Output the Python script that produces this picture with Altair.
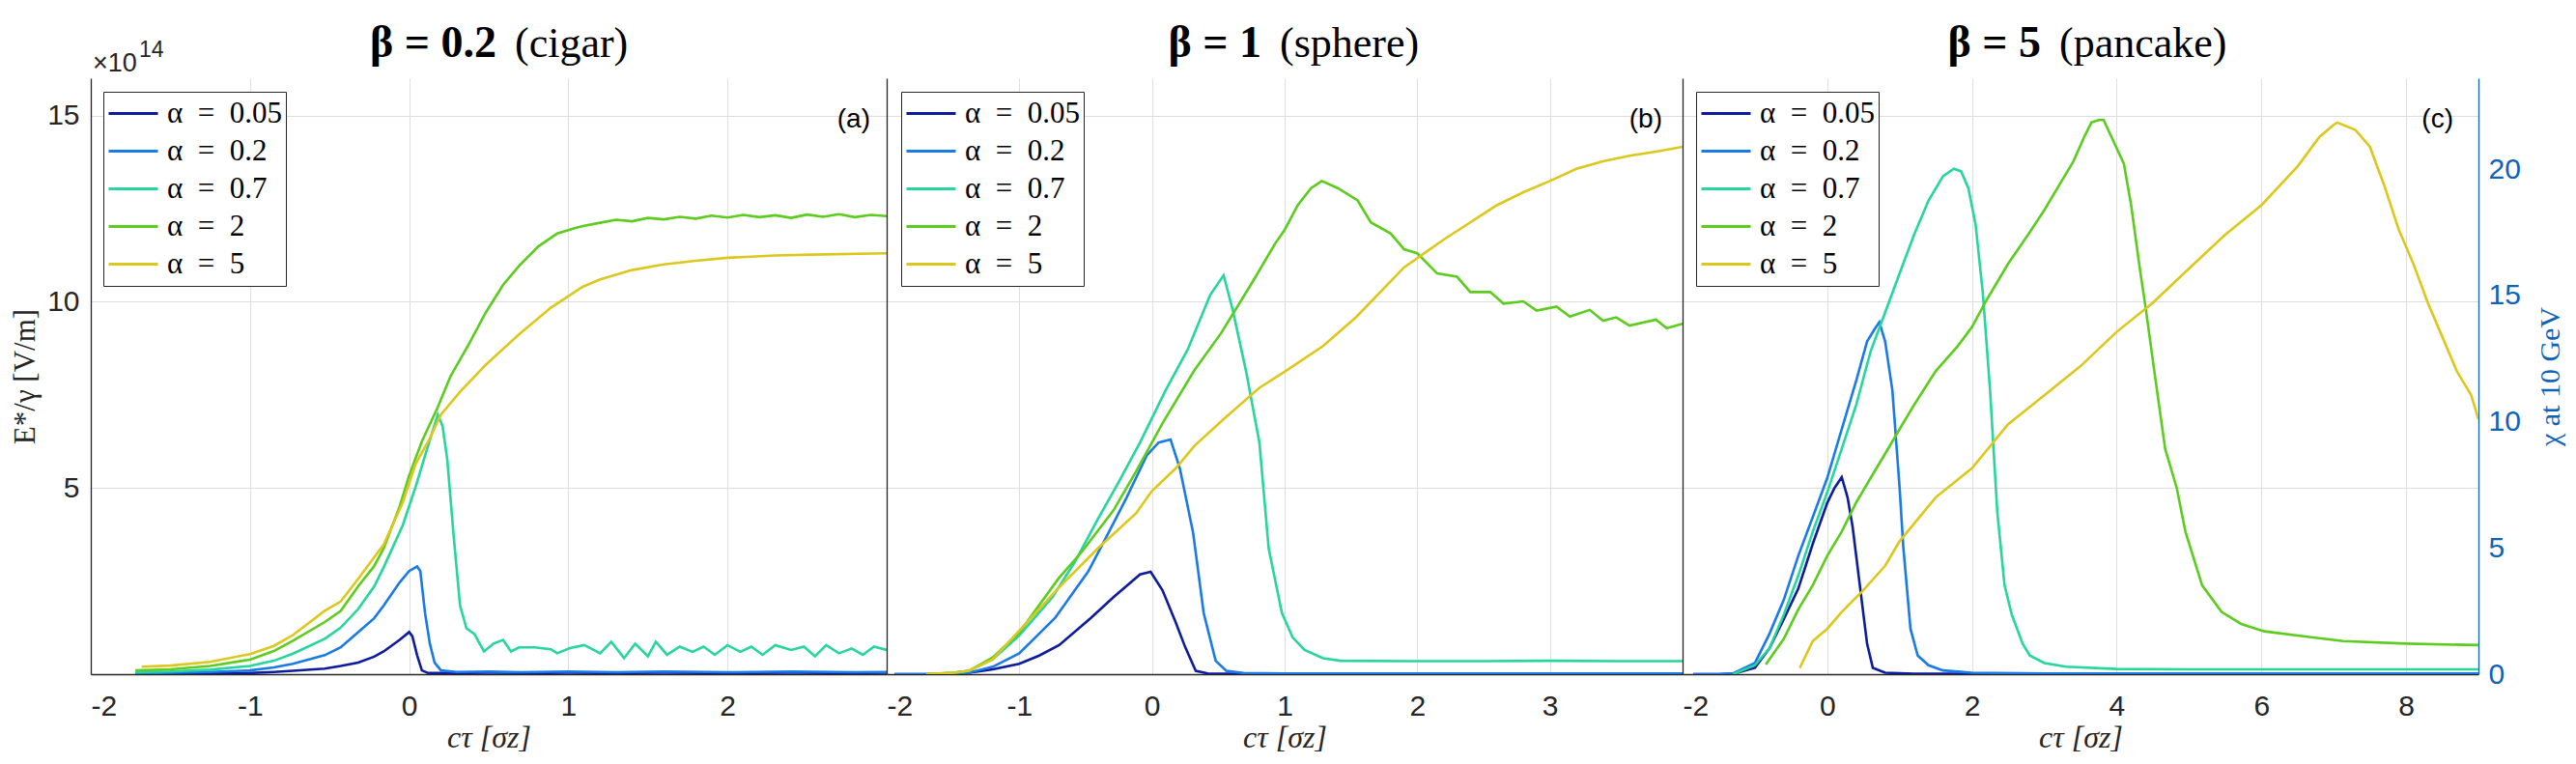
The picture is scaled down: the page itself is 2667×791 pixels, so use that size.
import altair as alt
import pandas as pd

# ---------------- data (values in units of 1e14 V/m) ----------------
LABELS = ["α\u2002=\u20020.05", "α\u2002=\u20020.2", "α\u2002=\u20020.7", "α\u2002=\u20022", "α\u2002=\u20025"]
COLORS = ["#0c1c9c", "#1a7ae6", "#26d69c", "#5ccc1e", "#dcc81c"]

# panel (a): beta = 0.2 (cigar)
a_x_005 = [-1.72,-1.5,-1.25,-1.0,-0.85,-0.73,-0.53,-0.43,-0.32,-0.22,-0.16,-0.06,0.0,0.02,0.05,0.08,0.12,0.3,0.5,0.8,1.0,1.3,1.6,2.0,2.4,2.8,3.0]
a_y_005 = [0.0,0.01,0.02,0.03,0.06,0.09,0.15,0.22,0.31,0.47,0.61,0.92,1.13,1.02,0.51,0.1,0.03,0.03,0.04,0.03,0.04,0.03,0.04,0.03,0.04,0.03,0.04]
a_x_02 = [-1.72,-1.5,-1.25,-1.0,-0.85,-0.73,-0.53,-0.43,-0.32,-0.22,-0.16,-0.06,0.0,0.05,0.07,0.1,0.13,0.16,0.2,0.3,0.5,0.7,1.0,1.3,1.6,2.0,2.4,2.8,3.0]
a_y_02 = [0.02,0.04,0.06,0.1,0.18,0.28,0.51,0.72,1.13,1.5,1.84,2.46,2.77,2.89,2.77,1.64,0.82,0.31,0.1,0.06,0.07,0.05,0.07,0.05,0.07,0.05,0.07,0.05,0.06]
a_x_07 = [-1.72,-1.5,-1.25,-1.0,-0.85,-0.73,-0.53,-0.43,-0.32,-0.22,-0.16,-0.04,0.04,0.12,0.18,0.21,0.24,0.28,0.32,0.36,0.41,0.47,0.53,0.59,0.64,0.69,0.79,0.89,0.93,1.01,1.1,1.2,1.27,1.35,1.42,1.5,1.55,1.62,1.7,1.78,1.85,1.92,2.0,2.08,2.15,2.22,2.3,2.4,2.48,2.55,2.62,2.7,2.78,2.85,2.92,3.0]
a_y_07 = [0.05,0.07,0.12,0.22,0.36,0.55,0.95,1.25,1.75,2.35,2.87,4.0,5.02,6.15,6.97,6.66,5.74,3.69,1.84,1.23,1.08,0.61,0.82,0.92,0.61,0.72,0.72,0.67,0.56,0.7,0.78,0.56,0.87,0.43,0.82,0.48,0.87,0.52,0.74,0.6,0.74,0.52,0.78,0.6,0.74,0.52,0.78,0.65,0.74,0.48,0.78,0.56,0.69,0.52,0.74,0.65]
a_x_2 = [-1.72,-1.5,-1.25,-1.0,-0.85,-0.73,-0.53,-0.43,-0.32,-0.22,-0.16,-0.06,0.0,0.08,0.18,0.26,0.38,0.48,0.59,0.69,0.81,0.93,1.05,1.1,1.2,1.3,1.4,1.5,1.6,1.7,1.8,1.9,2.0,2.1,2.2,2.3,2.4,2.5,2.6,2.7,2.8,2.9,3.0]
a_y_2 = [0.1,0.13,0.22,0.39,0.62,0.9,1.4,1.7,2.36,2.9,3.38,4.5,5.33,6.25,7.17,8.0,8.9,9.7,10.45,10.96,11.48,11.83,11.99,12.04,12.12,12.2,12.16,12.25,12.21,12.28,12.23,12.31,12.26,12.33,12.27,12.32,12.25,12.34,12.28,12.35,12.27,12.33,12.3]
a_x_5 = [-1.68,-1.5,-1.25,-1.0,-0.85,-0.73,-0.53,-0.43,-0.32,-0.16,-0.04,0.04,0.12,0.2,0.32,0.48,0.69,0.89,1.09,1.2,1.4,1.6,1.8,2.0,2.3,2.6,3.0]
a_y_5 = [0.2,0.23,0.33,0.54,0.76,1.05,1.7,1.95,2.56,3.48,4.61,5.64,6.25,6.97,7.58,8.3,9.12,9.84,10.4,10.6,10.85,11.0,11.1,11.18,11.24,11.27,11.3]

# panel (b): beta = 1 (sphere)
b_x_005 = [-1.94,-1.6,-1.38,-1.2,-1.0,-0.85,-0.7,-0.46,-0.29,-0.09,-0.01,0.08,0.18,0.25,0.33,0.42,0.6,1.0,1.5,2.0,2.5,3.0,3.5,4.0]
b_y_005 = [0,0,0.04,0.13,0.28,0.5,0.78,1.51,2.07,2.68,2.75,2.25,1.38,0.73,0.09,0.02,0.01,0.01,0.01,0.01,0.01,0.01,0.01,0.01]
b_x_02 = [-1.94,-1.6,-1.38,-1.2,-1.0,-0.73,-0.48,-0.34,-0.19,-0.04,0.05,0.14,0.21,0.31,0.39,0.48,0.56,0.69,1.0,1.5,2.0,2.5,3.0,3.5,4.0]
b_y_02 = [0,0,0.04,0.2,0.56,1.51,2.76,3.71,4.75,5.87,6.22,6.3,5.53,3.8,1.64,0.36,0.09,0.03,0.02,0.02,0.02,0.02,0.02,0.02,0.02]
b_x_07 = [-1.7,-1.5,-1.38,-1.2,-1.0,-0.75,-0.58,-0.41,-0.26,-0.09,0.1,0.27,0.44,0.54,0.61,0.71,0.81,0.88,0.98,1.06,1.15,1.29,1.42,1.9,2.5,3.0,3.5,4.0]
b_y_07 = [0,0.03,0.09,0.4,1.04,2.07,3.02,4.15,5.1,6.22,7.6,8.72,10.19,10.71,9.76,8.12,6.22,3.37,1.64,0.99,0.65,0.43,0.36,0.35,0.35,0.36,0.35,0.35]
b_x_2 = [-1.7,-1.5,-1.38,-1.2,-1.0,-0.7,-0.53,-0.29,-0.12,0.08,0.32,0.52,0.76,0.93,1.0,1.1,1.2,1.28,1.4,1.55,1.65,1.8,1.9,2.0,2.15,2.3,2.4,2.55,2.65,2.8,2.9,3.05,3.15,3.3,3.4,3.5,3.6,3.8,3.88,4.0]
b_y_2 = [0,0.04,0.09,0.45,1.12,2.59,3.28,4.4,5.44,6.74,8.16,9.15,10.54,11.57,11.93,12.6,13.05,13.24,13.05,12.72,12.13,11.83,11.41,11.3,10.76,10.67,10.26,10.26,9.95,10.01,9.76,9.87,9.6,9.78,9.49,9.58,9.36,9.52,9.29,9.41]
b_x_5 = [-1.7,-1.5,-1.38,-1.2,-1.0,-0.7,-0.41,-0.12,0.0,0.18,0.32,0.56,0.81,1.0,1.29,1.54,1.9,2.2,2.4,2.6,2.8,3.0,3.2,3.4,3.6,3.8,4.0]
b_y_5 = [0,0.04,0.09,0.4,1.17,2.33,3.37,4.32,4.92,5.53,6.13,6.91,7.69,8.12,8.81,9.59,10.92,11.67,12.13,12.59,12.94,13.24,13.57,13.77,13.92,14.03,14.16]

# panel (c): beta = 5 (pancake)
c_x_005 = [-1.85,-1.5,-1.28,-1.0,-0.8,-0.6,-0.4,-0.2,0.0,0.1,0.2,0.28,0.35,0.45,0.55,0.63,0.8,1.2,2,3,4,5,6,7,8,9]
c_y_005 = [0,0,0.02,0.17,0.69,1.48,2.3,3.5,4.6,5.0,5.29,4.75,3.96,2.39,0.82,0.17,0.04,0.01,0.01,0.01,0.01,0.01,0.01,0.01,0.01,0.01]
c_x_02 = [-1.85,-1.5,-1.3,-1.0,-0.8,-0.6,-0.4,-0.2,0.0,0.2,0.4,0.55,0.65,0.72,0.8,0.9,1.0,1.05,1.15,1.25,1.4,1.6,2.0,3,4,5,6,7,8,9]
c_y_02 = [0,0,0.02,0.3,1.08,2.0,3.18,4.22,5.27,6.58,7.88,8.93,9.25,9.45,8.93,7.62,5.0,3.44,1.22,0.5,0.24,0.1,0.04,0.02,0.02,0.02,0.02,0.02,0.02,0.02]
c_x_07 = [-1.3,-1.0,-0.8,-0.6,-0.4,-0.2,0.0,0.2,0.4,0.6,0.8,1.0,1.2,1.4,1.6,1.75,1.85,1.95,2.05,2.15,2.25,2.35,2.45,2.55,2.7,2.8,3.0,3.3,4,5,6,7,8,9]
c_y_07 = [0,0.24,0.69,1.6,2.65,3.83,4.88,6.05,7.23,8.67,9.71,10.76,11.8,12.72,13.37,13.57,13.5,13.05,12.07,10.24,7.62,4.35,2.39,1.6,0.82,0.5,0.3,0.2,0.14,0.13,0.13,0.13,0.13,0.13]
c_x_2 = [-0.85,-0.6,-0.4,-0.2,0.0,0.2,0.4,0.6,0.8,1.0,1.2,1.5,1.8,2.0,2.2,2.5,2.8,3.0,3.2,3.4,3.55,3.65,3.75,3.82,4.1,4.2,4.32,4.4,4.52,4.67,4.83,4.95,5.18,5.45,5.72,6.04,6.58,7.13,8.0,9.0]
c_y_2 = [0.26,0.95,1.74,2.39,3.18,3.83,4.61,5.27,5.92,6.58,7.23,8.14,8.8,9.32,10.04,11.02,11.87,12.46,13.11,13.76,14.42,14.81,14.88,14.88,13.7,12.59,10.89,9.84,8.14,6.05,5.0,3.83,2.39,1.67,1.35,1.15,1.02,0.89,0.82,0.78]
c_x_5 = [-0.38,-0.2,0.0,0.2,0.5,0.8,1.0,1.5,2.0,2.5,3.0,3.5,4.0,4.5,5.0,5.5,6.0,6.5,6.8,7.0,7.05,7.3,7.5,7.7,7.9,8.1,8.3,8.5,8.7,8.9,9.0]
c_y_5 = [0.17,0.89,1.22,1.67,2.26,2.91,3.57,4.75,5.53,6.71,7.49,8.27,9.19,9.97,10.89,11.8,12.59,13.63,14.42,14.75,14.81,14.61,14.16,13.11,11.93,11.02,9.97,9.06,8.14,7.49,6.84]

CHI_MAX = 23.6   # right axis (chi at 10 GeV) top, matching E*/gamma = 16e14

X_TICKS_A = [-2, -1, 0, 1, 2]
X_TICKS_B = [-2, -1, 0, 1, 2, 3]
X_TICKS_C = [-2, 0, 2, 4, 6, 8]
Y_TICKS = [5, 10, 15]
CHI_TICKS = [0, 5, 10, 15, 20]


def build_df(series):
    rows = []
    for lab, xs, ys in series:
        for i, (xv, yv) in enumerate(zip(xs, ys)):
            rows.append({"series": lab, "x": xv, "y": yv, "i": i})
    return pd.DataFrame(rows)


df_a = build_df(zip(LABELS, [a_x_005, a_x_02, a_x_07, a_x_2, a_x_5], [a_y_005, a_y_02, a_y_07, a_y_2, a_y_5]))
df_b = build_df(zip(LABELS, [b_x_005, b_x_02, b_x_07, b_x_2, b_x_5], [b_y_005, b_y_02, b_y_07, b_y_2, b_y_5]))
df_c = build_df(zip(LABELS, [c_x_005, c_x_02, c_x_07, c_x_2, c_x_5], [c_y_005, c_y_02, c_y_07, c_y_2, c_y_5]))

W, H = 824, 617
SANS = "Liberation Sans"
SERIF = "Liberation Serif"
INK = "#262626"
CHI_COLOR = "#0d63b8"


def panel(df, xdom, xticks, first, legend_x, tag, tag_dx, t_bold, t_rest, t_split):
    yaxis = (
        alt.Axis(values=Y_TICKS, title="E*/γ  [V/m]", labelPadding=12, titlePadding=6,
                 titleFont=SERIF, titleFontSize=31, titleFontWeight="normal", titleColor=INK)
        if first else
        alt.Axis(values=Y_TICKS, labels=False, title=None)
    )
    lines = alt.Chart(df).mark_line(strokeWidth=2.6, clip=True).encode(
        x=alt.X("x:Q", scale=alt.Scale(domain=xdom, nice=False, zero=False),
                axis=alt.Axis(values=xticks, labelExpr="'' + datum.value", title="cτ  [σz]",
                              labelPadding=18, titlePadding=2, titleFont=SERIF, titleFontSize=32,
                              titleFontStyle="italic", titleFontWeight="normal", titleColor=INK)),
        y=alt.Y("y:Q", scale=alt.Scale(domain=[0, 16], nice=False), axis=yaxis),
        color=alt.Color("series:N", scale=alt.Scale(domain=LABELS, range=COLORS),
                        legend=alt.Legend(orient="none", legendX=legend_x, legendY=14, title=None,
                                          symbolType="stroke", symbolSize=2601, symbolStrokeWidth=3,
                                          clipHeight=37, rowPadding=2, padding=4, labelOffset=8,
                                          strokeColor=INK, fillColor="white", labelFont=SERIF,
                                          labelFontSize=31, labelColor="black", cornerRadius=0)),
        order="i:Q",
    )
    one = pd.DataFrame({"bold": [t_bold], "rest": [t_rest], "tag": [tag]})
    tb = alt.Chart(one).mark_text(font=SERIF, fontSize=46, fontWeight="bold", align="right",
                                  baseline="alphabetic", color="black").encode(
        text="bold:N", x=alt.value(t_split), y=alt.value(-22))
    tr = alt.Chart(one).mark_text(font=SERIF, fontSize=44, align="left",
                                  baseline="alphabetic", color="black").encode(
        text="rest:N", x=alt.value(t_split + 19), y=alt.value(-22))
    tg = alt.Chart(one).mark_text(font=SANS, fontSize=28, align="right", baseline="middle",
                                  color="black").encode(
        text="tag:N", x=alt.value(W - tag_dx), y=alt.value(43))
    layers = [lines, tb, tr, tg]
    if first:
        exp = pd.DataFrame({"base": ["×10"], "pw": ["14"]})
        e1 = alt.Chart(exp).mark_text(font=SANS, fontSize=27, align="left", baseline="alphabetic",
                                      color=INK).encode(text="base:N", x=alt.value(2), y=alt.value(-7))
        e2 = alt.Chart(exp).mark_text(font=SANS, fontSize=23, align="left", baseline="alphabetic",
                                      color=INK).encode(text="pw:N", x=alt.value(50), y=alt.value(-22))
        layers += [e1, e2]
    return layers


pa = alt.layer(*panel(df_a, [-2, 3], X_TICKS_A, True, 13, "(a)", 17, "β = 0.2", "(cigar)", 420)).properties(width=W, height=H)
pb = alt.layer(*panel(df_b, [-2, 4], X_TICKS_B, False, 15, "(b)", 21, "β = 1", "(sphere)", 388)).properties(width=W, height=H)

c_layers = panel(df_c, [-2, 9], X_TICKS_C, False, 14, "(c)", 26, "β = 5", "(pancake)", 371)
chi = alt.Chart(df_c).transform_calculate(chi=f"datum.y * {CHI_MAX} / 16").mark_line(opacity=0).encode(
    x=alt.X("x:Q", scale=alt.Scale(domain=[-2, 9], nice=False, zero=False)),
    y=alt.Y("chi:Q", scale=alt.Scale(domain=[0, CHI_MAX], nice=False),
            axis=alt.Axis(orient="right", values=CHI_TICKS, grid=False, title="χ at 10 GeV",
                          titleAngle=270, titleBaseline="top", titlePadding=16, labelPadding=10,
                          domainColor=CHI_COLOR, labelColor=CHI_COLOR, titleColor=CHI_COLOR,
                          titleFont=SERIF, titleFontSize=30, titleFontWeight="normal")),
    detail="series:N",
)
pc = alt.layer(c_layers[0], chi, *c_layers[1:]).resolve_scale(y="independent").properties(width=W, height=H)

chart = alt.hconcat(pa, pb, pc, spacing=0, bounds="flush").resolve_scale(
    x="independent", y="independent", color="independent"
).resolve_legend(color="independent").configure_view(stroke=None).configure_axis(
    labelFont=SANS, labelFontSize=30, labelColor=INK, domainColor=INK, domainWidth=1.3,
    gridColor="#dedede", gridWidth=1, ticks=False,
).properties(padding={"top": 14, "left": 2, "right": 2, "bottom": 2}, background="white")

chart.save("out.html", embed_options={"renderer": "svg", "actions": False})
